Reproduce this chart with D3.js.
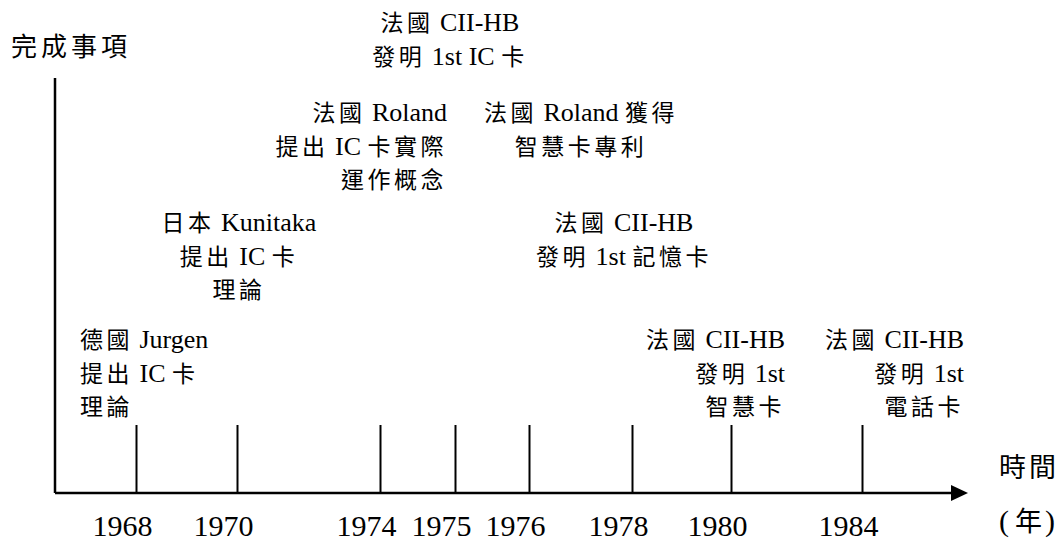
<!DOCTYPE html>
<html>
<head>
<meta charset="utf-8">
<script src="https://cdn.jsdelivr.net/npm/d3@7"></script>
<style>
  body { margin: 0; background: #fff; }
  svg text { fill: #000; }
</style>
</head>
<body>
<div id="chart"></div>
<script>
// years on the time axis
var years = [1968, 1970, 1974, 1975, 1976, 1978, 1980, 1984];

// what happened in each year, one string per printed line
var events = [
  ["德國 Jurgen", "提出 IC 卡", "理論"],
  ["日本 Kunitaka", "提出 IC 卡", "理論"],
  ["法國 Roland", "提出 IC 卡實際", "運作概念"],
  ["法國 CII-HB", "發明 1st IC 卡"],
  ["法國 Roland 獲得", "智慧卡專利"],
  ["法國 CII-HB", "發明 1st 記憶卡"],
  ["法國 CII-HB", "發明 1st", "智慧卡"],
  ["法國 CII-HB", "發明 1st", "電話卡"]
];

var yTitle = "完成事項";
var xTitle = ["時間", "(\u2009年)"];

// layout of each label block (tier = height row, anchor/dx = where it sits next to its tick)
var labelLayout = [
  { tier: 0, anchor: "start",  dx: -56 },
  { tier: 1, anchor: "middle", dx: 2 },
  { tier: 2, anchor: "end",    dx: 67 },
  { tier: 3, anchor: "middle", dx: -5 },
  { tier: 2, anchor: "middle", dx: 52 },
  { tier: 1, anchor: "middle", dx: -8 },
  { tier: 0, anchor: "end",    dx: 54 },
  { tier: 0, anchor: "end",    dx: 102 }
];

var width = 1061, height = 552;
var axisX = 55, axisY = 493, axisTop = 78, arrowEnd = 968;
var tickLen = 68, lineH = 33.5;
var latinFont = "'Liberation Serif', 'Times New Roman', serif";
var cjkFont = "'Noto Sans CJK TC', 'Noto Sans CJK SC', sans-serif";

// the years are not spaced evenly in the original, so a piecewise scale
var x = d3.scaleLinear()
    .domain(years)
    .range([136, 237, 380, 455, 529, 632, 731, 862]);

// baseline of the first line of a label, per tier
var tierY = d3.scaleLinear()
    .domain([0, 1, 2, 3])
    .range([348, 231, 121, 31]);

var svg = d3.select("#chart").append("svg")
    .attr("width", width)
    .attr("height", height);

// splits a line into CJK and latin runs so each gets its own font
function fillRuns(textSel, str, size, spacing) {
  var runs = str.match(/[\u3000-\u9fff\uff00-\uffef]+|[^\u3000-\u9fff\uff00-\uffef]+/g) || [];
  runs.forEach(function(r) {
    var cjk = /[\u3000-\u9fff\uff00-\uffef]/.test(r);
    textSel.append("tspan")
      .attr("font-family", cjk ? cjkFont : latinFont)
      .attr("font-size", cjk ? size - 3 : size)
      .attr("letter-spacing", cjk ? spacing : 0)
      .text(r);
  });
}

// vertical axis
svg.append("line")
    .attr("x1", axisX).attr("x2", axisX)
    .attr("y1", axisTop).attr("y2", axisY)
    .attr("stroke", "#000").attr("stroke-width", 2.5);

// horizontal axis with arrow head
svg.append("line")
    .attr("x1", axisX).attr("x2", arrowEnd - 14)
    .attr("y1", axisY).attr("y2", axisY)
    .attr("stroke", "#000").attr("stroke-width", 2.5);
svg.append("path")
    .attr("d", "M" + (arrowEnd - 17) + "," + (axisY - 8) + "L" + arrowEnd + "," + axisY + "L" + (arrowEnd - 17) + "," + (axisY + 8) + "Z")
    .attr("fill", "#000");

// tick lines going up from the axis
var tickAxis = svg.append("g")
    .attr("transform", "translate(0," + axisY + ")")
    .call(d3.axisTop(x).tickValues(years).tickSize(tickLen).tickFormat(""));
tickAxis.select(".domain").remove();
tickAxis.selectAll(".tick line").attr("stroke", "#000").attr("stroke-width", 2);

// year labels under the axis
var yearAxis = svg.append("g")
    .attr("transform", "translate(0," + axisY + ")")
    .call(d3.axisBottom(x).tickValues(years).tickSize(0).tickPadding(22).tickFormat(d3.format("d")));
yearAxis.select(".domain").remove();
yearAxis.selectAll(".tick text")
    .attr("font-family", latinFont)
    .attr("font-size", 30)
    .attr("fill", "#000")
    .attr("dx", -14);

// event labels
events.forEach(function(lines, i) {
  var lay = labelLayout[i];
  lines.forEach(function(line, j) {
    var t = svg.append("text")
      .attr("x", x(years[i]) + lay.dx)
      .attr("y", tierY(lay.tier) + j * lineH)
      .attr("text-anchor", lay.anchor);
    fillRuns(t, line, 26, 3.5);
  });
});

// axis titles
var yt = svg.append("text").attr("x", 11).attr("y", 56);
fillRuns(yt, yTitle, 29, 4);

xTitle.forEach(function(s, i) {
  var t = svg.append("text").attr("x", 999).attr("y", 477 + i * 54);
  fillRuns(t, s, 30, 3);
});
</script>
</body>
</html>
